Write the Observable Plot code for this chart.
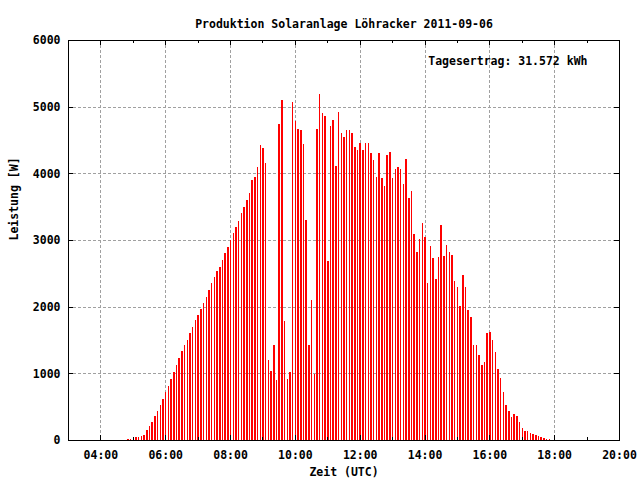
<!DOCTYPE html>
<html>
<head>
<meta charset="utf-8">
<script src="https://cdn.jsdelivr.net/npm/d3@7"></script>
<script src="https://cdn.jsdelivr.net/npm/@observablehq/plot@0.6"></script>
<style>
  html, body { margin: 0; padding: 0; background: #fff; }
</style>
</head>
<body>
<div id="chart"></div>
<script>
// ---- Data ----
const title = "Produktion Solaranlage Löhracker 2011-09-06";
const xLabel = "Zeit (UTC)";
const yLabel = "Leistung [W]";
const note = "Tagesertrag: 31.572 kWh";

// 5-minute samples, first one at 04:50 UTC
const startHour = 4 + 50 / 60;
const stepMinutes = 5;

const power = [
  15, 15, 30, 45, 45, 60, 75, 150, 210, 270, 360, 435, 525, 615, 720, 810, 915, 1020, 1125, 1230, 1335,
  1420, 1500, 1600, 1700, 1800, 1880, 1960, 2050, 2150, 2250, 2350, 2450, 2530, 2600, 2700, 2800, 2900, 3000, 3100, 3200, 3280, 3400, 3500, 3600,
  3710, 3900, 3945, 4095, 4425, 4380, 4155, 1200, 1035, 1425, 900, 4740, 5100, 1785, 915, 1020, 5070, 4785, 4665, 4650, 4440, 3300, 1425, 2100, 990, 4665, 5190, 4905, 4860, 2685, 4710, 4800, 4110, 4920,
  4600, 4550, 4650, 4650, 4600, 4400, 4350, 4450, 4350, 4450, 4450, 4300, 4200, 3950, 4300,
  3930, 3810, 4275, 4320, 3930, 4065, 4095, 4065, 3840, 4215, 3630, 3735, 3090, 2820, 3015, 3255, 3045, 2355, 2910, 2730,
  2415, 2745, 3225, 2760, 2925, 2820, 2775, 2385, 2295, 2010, 2475, 2295, 1950, 1845, 1425, 1425, 1275, 1125, 1170, 1605,
  1620, 1500, 1320, 1065, 930, 720, 525, 435, 345, 390, 360, 270, 180, 135, 135, 105, 90, 75, 60, 45, 30, 15, 15
];

const xTicks = [4, 6, 8, 10, 12, 14, 16, 18, 20];
const xMinorTicks = [3, 5, 7, 9, 11, 13, 15, 17, 19];
const xGrid = [4, 6, 8, 10, 12, 14, 16, 18];
const yTicks = [0, 1000, 2000, 3000, 4000, 5000, 6000];
const yGrid = [1000, 2000, 3000, 4000, 5000];

const data = power.map((w, i) => ({ t: startHour + i * stepMinutes / 60, w }));
const fmtHour = h => String(h).padStart(2, "0") + ":00";

const font = "'DejaVu Sans Mono', monospace";

const chart = Plot.plot({
  width: 640,
  height: 480,
  marginLeft: 68,
  marginRight: 21,
  marginTop: 40,
  marginBottom: 40,
  style: { fontFamily: font, fontWeight: "bold", fontSize: "11.5px", color: "black", background: "white" },
  x: { domain: [3, 20] },
  y: { domain: [0, 6000] },
  marks: [
    Plot.gridX(xGrid, { stroke: "#a0a0a0", strokeOpacity: 1, strokeDasharray: "3,2", shapeRendering: "crispEdges" }),
    Plot.gridY(yGrid, { stroke: "#a0a0a0", strokeOpacity: 1, strokeDasharray: "3,2", shapeRendering: "crispEdges" }),
    Plot.ruleX(data, { x: "t", y1: 0, y2: "w", stroke: "#ff0000", strokeWidth: 1.5, shapeRendering: "crispEdges" }),
    Plot.frame({ stroke: "black", shapeRendering: "crispEdges" }),
    // inward tick marks
    Plot.tickX(xTicks, { x: d => d, insetTop: 395, stroke: "black", shapeRendering: "crispEdges" }),
    Plot.tickX(xTicks, { x: d => d, insetBottom: 395, stroke: "black", shapeRendering: "crispEdges" }),
    Plot.tickX(xMinorTicks, { x: d => d, insetTop: 397, stroke: "black", shapeRendering: "crispEdges" }),
    Plot.tickX(xMinorTicks, { x: d => d, insetBottom: 397, stroke: "black", shapeRendering: "crispEdges" }),
    Plot.tickY(yTicks, { y: d => d, insetRight: 546, stroke: "black", shapeRendering: "crispEdges" }),
    Plot.tickY(yTicks, { y: d => d, insetLeft: 546, stroke: "black", shapeRendering: "crispEdges" }),
    Plot.axisX(xTicks, { tickSize: 0, tickPadding: 10, tickFormat: fmtHour, label: null, fontWeight: "bold" }),
    Plot.axisY(yTicks, { tickSize: 0, tickPadding: 8, tickFormat: d => String(d), label: null, fontWeight: "bold" }),
    Plot.text([title], { frameAnchor: "top", dy: -21, fontWeight: "bold", fill: "black" }),
    Plot.text([xLabel], { frameAnchor: "bottom", dy: 35, fontWeight: "bold", fill: "black" }),
    Plot.text([yLabel], { frameAnchor: "left", dx: -54, rotate: -90, fontWeight: "bold", fill: "black" }),
    Plot.text([note], { frameAnchor: "top-right", dx: -32, dy: 16, textAnchor: "end", fontWeight: "bold", fill: "black" })
  ]
});

document.getElementById("chart").appendChild(chart);
</script>
</body>
</html>
